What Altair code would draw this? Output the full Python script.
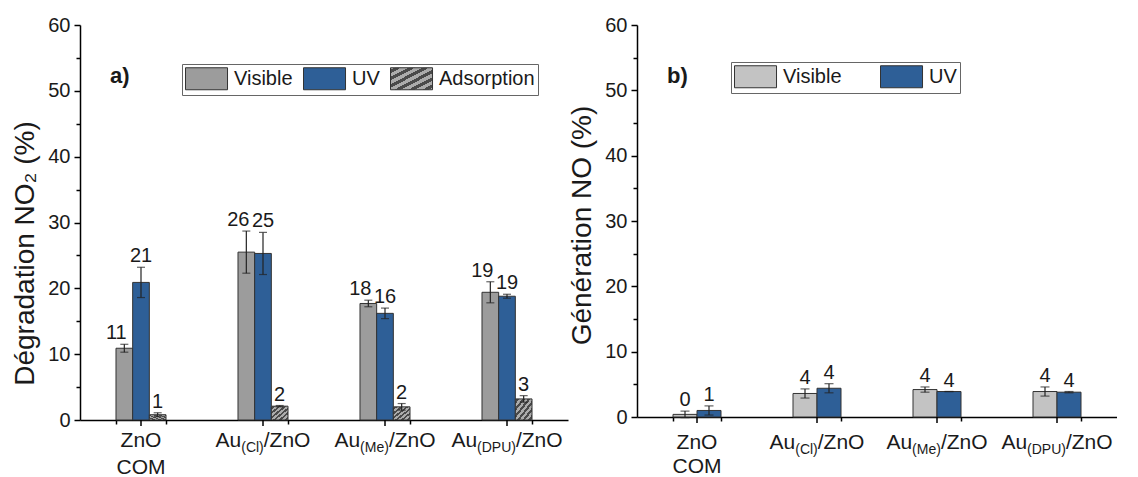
import json
import altair as alt
import pandas as pd

FONT = "Liberation Sans"

# ---------------- data ----------------
categories = ["ZnO COM", "Au(Cl)/ZnO", "Au(Me)/ZnO", "Au(DPU)/ZnO"]
cat_main = ["ZnO", "Au", "Au", "Au"]
cat_sub = ["", "(Cl)", "(Me)", "(DPU)"]
cat_tail = ["", "/ZnO", "/ZnO", "/ZnO"]
cat_line2 = ["COM", "", "", ""]

series_a = ["Visible", "UV", "Adsorption"]
a_visible = [10.9, 25.5, 17.7, 19.4]
a_visible_err = [0.6, 3.2, 0.5, 1.6]
a_visible_lbl = ["11", "26", "18", "19"]
a_uv = [20.9, 25.3, 16.2, 18.8]
a_uv_err = [2.3, 3.2, 0.8, 0.3]
a_uv_lbl = ["21", "25", "16", "19"]
a_ads = [0.8, 2.1, 2.0, 3.2]
a_ads_err = [0.3, 0.1, 0.5, 0.5]
a_ads_lbl = ["1", "2", "2", "3"]

series_b = ["Visible", "UV"]
b_visible = [0.4, 3.6, 4.2, 3.9]
b_visible_err = [0.5, 0.7, 0.4, 0.7]
b_visible_lbl = ["0", "4", "4", "4"]
b_uv = [1.0, 4.4, 3.9, 3.8]
b_uv_err = [0.7, 0.7, 0.0, 0.1]
b_uv_lbl = ["1", "4", "4", "4"]

y_ticks = [0, 5, 10, 15, 20, 25, 30, 35, 40, 45, 50, 55, 60]

# ---------------- styles ----------------
GRAY_A = "#9c9c9c"
GRAY_B = "#c3c3c3"
BLUE = "#2e5f97"
HATCH_BASE = "#ababab"
HATCH_LINE = "#4a4a4a"
EDGE = "#333333"
TXT = "#1a1a1a"


def stripes_expr(n, w):
    stops = [{"offset": 0, "color": HATCH_BASE}]
    for k in range(n):
        c = (k + 0.5) / n
        stops += [
            {"offset": round(c - w / 2, 4), "color": HATCH_BASE},
            {"offset": round(c - w / 2, 4), "color": HATCH_LINE},
            {"offset": round(c + w / 2, 4), "color": HATCH_LINE},
            {"offset": round(c + w / 2, 4), "color": HATCH_BASE},
        ]
    stops.append({"offset": 1, "color": HATCH_BASE})
    g = {"gradient": "linear", "x1": 0, "y1": 0, "x2": 1, "y2": 1, "stops": stops}
    return {"expr": json.dumps(g)}


HATCH = stripes_expr(6, 0.08)

CW = {'A': .667, 'u': .556, '(': .333, ')': .333, 'C': .722, 'l': .222, 'M': .833,
      'e': .556, 'D': .722, 'P': .667, 'U': .722, '/': .278, 'Z': .611, 'n': .556,
      'O': .778}


def tw(s, size):
    return sum(CW.get(c, .556) for c in s) * size


def table(series, vals, errs, lbls):
    rows = []
    for s, v, e, l in zip(series, vals, errs, lbls):
        for i, c in enumerate(categories):
            rows.append({"cat": c, "series": s, "value": v[i], "lo": v[i] - e[i],
                         "hi": v[i] + e[i], "label": l[i]})
    return pd.DataFrame(rows)


df_a = table(series_a, [a_visible, a_uv, a_ads], [a_visible_err, a_uv_err, a_ads_err],
             [a_visible_lbl, a_uv_lbl, a_ads_lbl])
df_b = table(series_b, [b_visible, b_uv], [b_visible_err, b_uv_err],
             [b_visible_lbl, b_uv_lbl])
df_cat = pd.DataFrame({"cat": categories, "main": cat_main, "sub": cat_sub,
                       "tail": cat_tail, "line2": cat_line2})

MAIN_FS = 21
SUB_FS = 14
LEG_SYM = "M-1,-1H2.82V1H-1Z"


def panel(df, series, colors, W, H, ytitle, title_y, tag, pin, cap, leg_x, leg_y,
          col_pad, vis_dx, lab_off, line_gap):
    X = alt.X("cat:N",
              scale=alt.Scale(domain=categories, paddingInner=pin, paddingOuter=pin / 2),
              axis=alt.Axis(title=None, labels=False, tickBand="extent", tickSize=4,
                            tickWidth=1.5, grid=False))
    XO = alt.XOffset("series:N", scale=alt.Scale(domain=series, paddingInner=0,
                                                  paddingOuter=0))
    yaxis = alt.Axis(values=y_ticks, title=ytitle, grid=False, titleY=title_y,
                     labelExpr="datum.value % 10 === 0 ? datum.label : ''",
                     tickSize={"condition": {"test": "datum.value % 10 === 0", "value": 6},
                               "value": 4},
                     titlePadding=8, labelPadding=4)
    Y = alt.Y("value:Q", scale=alt.Scale(domain=[0, 60], nice=False), axis=yaxis)
    Ylo = alt.Y("lo:Q", scale=alt.Scale(domain=[0, 60], nice=False), axis=yaxis)
    Yhi = alt.Y("hi:Q", scale=alt.Scale(domain=[0, 60], nice=False), axis=yaxis)

    base = alt.Chart(df)
    legend = alt.Legend(
        orient="none", legendX=leg_x, legendY=leg_y, direction="horizontal", title=None,
        symbolType=LEG_SYM, symbolSize=484, symbolStrokeColor=EDGE,
        symbolStrokeWidth=1, symbolOpacity=1, labelFont=FONT, labelFontSize=20,
        labelColor=TXT, labelOffset=26, columnPadding=col_pad, padding=3,
        strokeColor="#666666", fillColor="white", labelLimit=300,
    )
    bars = base.mark_bar(stroke=EDGE, strokeWidth=1, opacity=1).encode(
        x=X, xOffset=XO, y=Y,
        color=alt.Color("series:N", scale=alt.Scale(domain=series, range=colors),
                        legend=legend),
    )
    layers = [bars]

    err = base.mark_rule(color="#222222", strokeWidth=1.2).encode(
        x=X, xOffset=XO, y=Ylo, y2="hi:Q")
    cap_hi = base.mark_tick(color="#222222", size=cap, thickness=1.2,
                            orient="horizontal").encode(x=X, xOffset=XO, y=Yhi)
    cap_lo = base.mark_tick(color="#222222", size=cap, thickness=1.2,
                            orient="horizontal").encode(x=X, xOffset=XO, y=Ylo)
    lab_vis = base.transform_filter(alt.datum.series == "Visible").mark_text(
        font=FONT, fontSize=20, color=TXT, baseline="alphabetic", dy=-5, dx=vis_dx
    ).encode(x=X, xOffset=XO, y=Yhi, text="label:N")
    lab_rest = base.transform_filter(alt.datum.series != "Visible").mark_text(
        font=FONT, fontSize=20, color=TXT, baseline="alphabetic", dy=-5
    ).encode(x=X, xOffset=XO, y=Yhi, text="label:N")
    layers += [err, cap_hi, cap_lo, lab_vis, lab_rest]

    # major ticks at the category centres
    cen = alt.Chart(df_cat).mark_rule(color="black", strokeWidth=1.5).encode(
        x=X, y=alt.value(H), y2=alt.value(H + 6))
    layers.append(cen)

    # category labels with subscripts
    yb = H + lab_off
    for i, c in enumerate(categories):
        src = alt.Chart(df_cat).transform_filter(alt.datum.cat == c)
        if cat_sub[i] == "":
            layers.append(src.mark_text(font=FONT, fontSize=MAIN_FS, color=TXT,
                                        baseline="alphabetic", align="center").encode(
                x=X, y=alt.value(yb), text="main:N"))
            if cat_line2[i]:
                layers.append(src.mark_text(font=FONT, fontSize=MAIN_FS, color=TXT,
                                            baseline="alphabetic", align="center").encode(
                    x=X, y=alt.value(yb + line_gap), text="line2:N"))
        else:
            w1 = tw(cat_main[i], MAIN_FS)
            w2 = tw(cat_sub[i], SUB_FS)
            w3 = tw(cat_tail[i], MAIN_FS)
            left = -(w1 + w2 + w3) / 2
            layers.append(src.mark_text(font=FONT, fontSize=MAIN_FS, color=TXT,
                                        baseline="alphabetic", align="left",
                                        dx=left).encode(
                x=X, y=alt.value(yb), text="main:N"))
            layers.append(src.mark_text(font=FONT, fontSize=SUB_FS, color=TXT,
                                        baseline="alphabetic", align="left",
                                        dx=left + w1, dy=5).encode(
                x=X, y=alt.value(yb), text="sub:N"))
            layers.append(src.mark_text(font=FONT, fontSize=MAIN_FS, color=TXT,
                                        baseline="alphabetic", align="left",
                                        dx=left + w1 + w2).encode(
                x=X, y=alt.value(yb), text="tail:N"))

    tag_layer = alt.Chart(pd.DataFrame({"t": [tag]})).mark_text(
        font=FONT, fontSize=22, fontWeight="bold", color=TXT, align="left",
        baseline="middle").encode(x=alt.value(30), y=alt.value(51), text="t:N")
    layers.append(tag_layer)

    return alt.layer(*layers).properties(width=W, height=H)


left = panel(df_a, series_a, [GRAY_A, BLUE, HATCH], 488, 395,
             "Dégradation NO₂ (%)", 228, "a)", 0.59, 8, 102, 39, 8, -8, 27, 27)
right = panel(df_b, series_b, [GRAY_B, BLUE], 480, 392,
              "Génération NO (%)", 200, "b)", 0.6, 9, 94, 37, 36, 0, 32, 24)

chart = alt.hconcat(left, right, spacing=0).resolve_scale(
    color="independent", x="independent", y="independent", xOffset="independent"
).resolve_legend(color="independent").configure_view(stroke=None).configure_axis(
    domainColor="black", domainWidth=1.5, tickColor="black", tickWidth=1.5,
    labelFont=FONT, labelFontSize=20, labelColor=TXT, titleFont=FONT,
    titleFontSize=28, titleFontWeight="normal", titleColor=TXT,
).properties(padding={"left": 3, "top": 7, "right": 0, "bottom": 0})

chart.save("out.html", embed_options={"renderer": "svg", "actions": False})
